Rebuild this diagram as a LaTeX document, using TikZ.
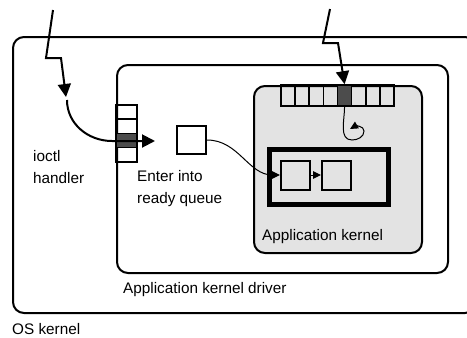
\documentclass[tikz,border=0pt]{standalone}
\usepackage{fontspec}
\setmainfont{Liberation Sans}
\usetikzlibrary{arrows.meta}

\begin{document}
\begin{tikzpicture}[x=1pt,y=1pt,
	    box/.style={draw,line width=2pt,rounded corners=11pt,anchor=north west,inner sep=0pt},
	    task/.style={draw,line width=2pt,minimum width=29pt,minimum height=29pt,inner sep=0pt},
	    cell/.style={draw,line width=1.6pt,inner sep=0pt},
	    label/.style={anchor=base west,inner sep=0pt,align=left,font=\fontsize{15.3}{22}\selectfont},
	    bolt/.style={line width=2pt,-{Triangle[length=13pt,width=13pt]}},
	    link/.style={line width=1pt,-{Triangle[length=8pt,width=7.5pt]}}]
	    \useasboundingbox (0,0) rectangle (467,-338);

	    % The three nested boxes
	    \node [box,minimum width=463pt,minimum height=276pt] (os) at (12,-36) {};
	    \node [box,minimum width=331pt,minimum height=208pt] (driver) at (116,-64) {};
	    \node [box,fill=black!11,minimum width=168pt,minimum height=167pt] (appk) at (253,-85) {};

	    % The ready queue with its two tasks
	    \node [draw,line width=4.8pt,anchor=north west,minimum width=119pt,minimum height=55pt] (readyq) at (267,-147) {};
	    \node [task] (task one) at (295.5,-175) {};
	    \node [task] (task two) at (336.5,-175) {};
	    \draw [link] (task one) -- (task two);

	    % The request that enters the ready queue
	    \node [task,minimum height=28pt] (entry) at (191.5,-140) {};
	    \draw [link] (entry.east) to[out=0,in=180] (task one.west);

	    % The queue of the ioctl handler
	    \foreach \i in {1,...,4}
		\node [cell,minimum width=21pt,minimum height=14.2pt] (left q \i) at (126.5,{-105-14.2*(\i-0.5)}) {};
	    \node [cell,fill=black!70,minimum width=21pt,minimum height=14.2pt] at (left q 3) {};

	    % The queue of the application kernel
	    \foreach \i in {1,...,8}
		\node [cell,minimum width=14.125pt,minimum height=21pt] (top q \i) at ({281+14.125*(\i-0.5)},-95.5) {};
	    \node [cell,fill=black!70,minimum width=14.125pt,minimum height=21pt] at (top q 5) {};

	    % Calls coming in from above
	    \coordinate (left in) at (53,-10);
	    \coordinate (left hit) at (66,-97);
	    \draw [bolt] (left in) -- (46,-58) -- (61,-58) -- (left hit);
	    \coordinate (right in) at (330,-9);
	    \draw [bolt] (right in) -- (323,-43) -- (338,-43) -- (top q 5.north);

	    % From the handler into the queue
	    \draw [bolt]
		(67,-100) to[out=-90,in=180] (112,-141) -- (155,-141) coordinate (handler out);

	    % The application kernel picks up the request
	    \draw [link]
		(top q 5.south) to[out=-90,in=180] (352,-140) to[out=0,in=-90] (364,-131)
		to[out=90,in=30] (350,-129);

	    % Labels
	    \node [label] (ioctl) at (33,-183) {ioctl\\handler};
	    \node [label] (enter) at (137,-203) {Enter into\\ready queue};
	    \node [label] (appk label) at (262,-240) {Application kernel};
	    \node [label] (driver label) at (123,-293) {Application kernel driver};
	    \node [label] (os label) at (12,-334) {OS kernel};
\end{tikzpicture}
\end{document}
